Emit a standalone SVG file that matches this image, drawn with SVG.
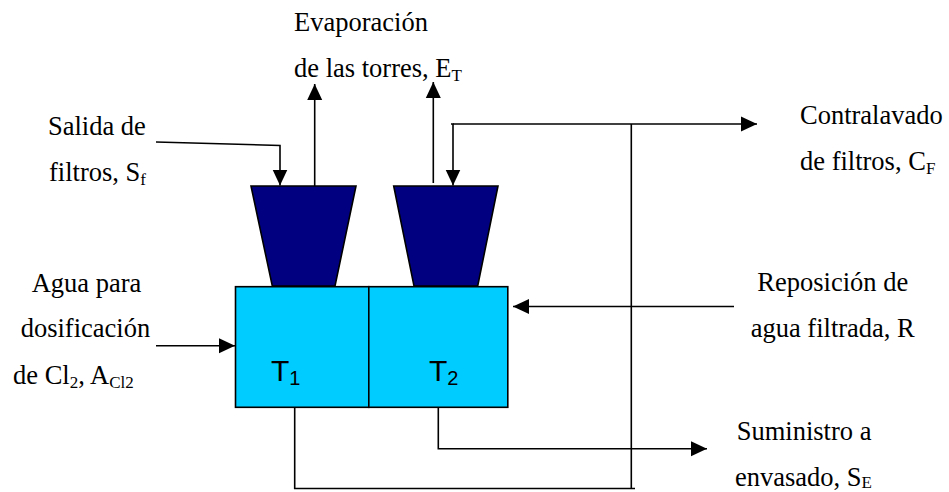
<svg xmlns="http://www.w3.org/2000/svg" width="949" height="492" viewBox="0 0 949 492">
<defs>
<style>
.l{font-family:"Liberation Serif","Times New Roman",serif;font-size:26.500px;fill:#000}
.s{font-size:17px}
.t{font-family:"Liberation Sans",Arial,sans-serif;font-size:30px;fill:#000}
.ts{font-size:20px}
.c{fill:none;stroke:#000;stroke-width:1.6}
.b{fill:#00ccff;stroke:#000;stroke-width:1.6}
.w{fill:#000080;stroke:#000;stroke-width:1.6}
</style>
<marker id="a" markerUnits="userSpaceOnUse" markerWidth="16" markerHeight="16" refX="16" refY="8" orient="auto"><path d="M0,0.5L16,8L0,15.500z" fill="#000"/></marker>
</defs>
<g id="connectors">
<path class="c" d="M156,142L280,145.500V185.500" marker-end="url(#a)"/>
<path class="c" d="M314.700,186V84" marker-end="url(#a)"/>
<path class="c" d="M433.300,183V82" marker-end="url(#a)"/>
<path class="c" d="M451,124H453V185.500" marker-end="url(#a)"/>
<path class="c" d="M453,124H757" marker-end="url(#a)"/>
<path class="c" d="M631.300,124V488.500"/>
<path class="c" d="M734,306.500H513" marker-end="url(#a)"/>
<path class="c" d="M156,345.700H235" marker-end="url(#a)"/>
<path class="c" d="M438.300,407V448.700H707" marker-end="url(#a)"/>
<path class="c" d="M294.700,407V488.500H635"/>
</g>
<g id="torre1"><polygon class="w" points="251,186 356,186 335,286 272.300,286"/></g>
<g id="torre2"><polygon class="w" points="393.700,186 498,186 477.700,286 414,286"/></g>
<g id="tanque1"><rect class="b" x="235.500" y="286.700" width="133.300" height="120.600"/><text class="t" x="271" y="380.700">T<tspan class="ts" dy="4.300">1</tspan></text></g>
<g id="tanque2"><rect class="b" x="368.800" y="286.700" width="139" height="120.600"/><text class="t" x="429" y="380.700">T<tspan class="ts" dy="4.300">2</tspan></text></g>
<g id="evaporacion"><text class="l" x="294" y="30.700">Evaporación</text><text class="l" x="294" y="77.300">de las torres, E<tspan class="s" dy="4">T</tspan></text></g>
<g id="salida"><text class="l" x="48" y="135">Salida de</text><text class="l" x="49" y="181">filtros, S<tspan class="s" dy="4">f</tspan></text></g>
<g id="agua"><text class="l" x="31.700" y="291.700">Agua para</text><text class="l" x="20.700" y="336.700">dosificación</text><text class="l" x="13" y="384">de Cl<tspan class="s" dy="4">2</tspan><tspan dy="-4">, A</tspan><tspan class="s" dy="4">Cl2</tspan></text></g>
<g id="contralavado"><text class="l" x="800" y="124">Contralavado</text><text class="l" x="800" y="170">de filtros, C<tspan class="s" dy="4">F</tspan></text></g>
<g id="reposicion"><text class="l" x="757.300" y="291">Reposición de</text><text class="l" x="750.700" y="336.700">agua filtrada, R</text></g>
<g id="suministro"><text class="l" x="736.700" y="440">Suministro a</text><text class="l" x="735" y="485.500">envasado, S<tspan class="s" dy="2.500">E</tspan></text></g>
</svg>
